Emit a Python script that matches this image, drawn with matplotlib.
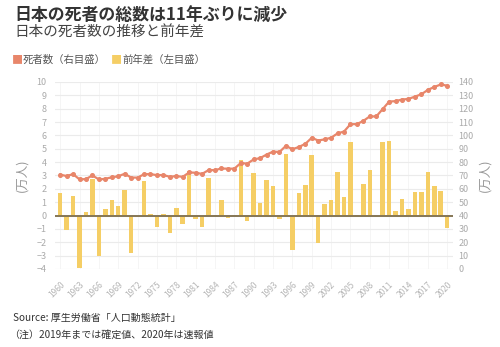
import numpy as np
import matplotlib.pyplot as plt
from matplotlib.ticker import MultipleLocator

plt.rcParams['font.family'] = ['Noto Sans CJK JP', 'DejaVu Sans']

years = list(range(1960, 2021))
# 死者数 (万人), right axis
deaths = [70.66, 69.56, 71.03, 67.08, 67.31, 70.04, 67.03, 67.50, 68.66, 69.38,
          71.30, 68.45, 68.38, 70.94, 71.05, 70.23, 70.33, 69.01, 69.58, 68.97,
          72.28, 72.03, 71.19, 74.00, 74.02, 75.23, 75.06, 75.12, 79.30, 78.86,
          82.03, 82.98, 85.66, 87.85, 87.59, 92.21, 89.62, 91.34, 93.65, 98.20,
          96.17, 97.03, 98.24, 101.50, 102.86, 108.38, 108.45, 110.83, 114.24, 114.19,
          119.70, 125.31, 125.64, 126.84, 127.30, 129.04, 130.77, 134.06, 136.25, 138.11,
          137.20]
# 前年差 (万人), left axis
diffs = [1.67, -1.10, 1.46, -3.95, 0.23, 2.74, -3.01, 0.47, 1.15, 0.72,
         1.92, -2.84, -0.08, 2.57, 0.11, -0.82, 0.10, -1.32, 0.58, -0.62,
         3.31, -0.25, -0.84, 2.82, 0.02, 1.20, -0.17, 0.06, 4.18, -0.44,
         3.17, 0.95, 2.68, 2.19, -0.26, 4.62, -2.59, 1.72, 2.31, 4.55,
         -2.04, 0.87, 1.20, 3.26, 1.37, 5.52, 0.07, 2.39, 3.41, -0.05,
         5.51, 5.61, 0.33, 1.21, 0.46, 1.74, 1.73, 3.28, 2.19, 1.86,
         -0.94]
xticks = list(range(1960, 2021, 3))

bar_col = '#F5CE65'
line_col = '#E8866A'
tick_col = '#aaaaaa'

fig = plt.figure(figsize=(5, 3.47), dpi=100)
ax = fig.add_axes([0.11, 0.2248, 0.796, 0.539])

ax.bar(years, diffs, width=0.7, color=bar_col, zorder=2)
ax.axhline(0, color='#857655', lw=1.4, zorder=3)
ax.set_ylim(-4, 10)
ax.set_xlim(1959.2, 2020.9)
ax.yaxis.set_major_locator(MultipleLocator(1))
ax.set_xticks(xticks)
ax.set_xticklabels([str(y) for y in xticks], rotation=45, ha='right',
                   rotation_mode='anchor', fontsize=6, color='#b5b5b5')
ax.tick_params(axis='y', labelsize=6.5, labelcolor=tick_col, length=0, pad=6)
ax.tick_params(axis='x', length=0, pad=8)
ax.grid(axis='y', color='#ebebeb', lw=0.8, zorder=0)
ax.grid(axis='x', color='#f4f4f4', lw=0.6, zorder=0)
for s in ax.spines.values():
    s.set_visible(False)
ax.set_ylabel('(万人)', fontsize=9, color='#999999', labelpad=6)

ax2 = ax.twinx()
ax2.plot(years, deaths, color=line_col, lw=1.6, marker='o', markersize=2.6, zorder=4)
ax2.set_ylim(0, 140)
ax2.yaxis.set_major_locator(MultipleLocator(10))
ax2.tick_params(axis='y', labelsize=6.5, labelcolor=tick_col, length=0, pad=4)
for s in ax2.spines.values():
    s.set_visible(False)
ax2.set_ylabel('(万人)', fontsize=9, color='#999999', rotation=90, labelpad=3)

fig.text(0.028, 0.958, '日本の死者の総数は11年ぶりに減少', fontsize=12.2,
         fontweight='bold', color='#333333', va='center')
fig.text(0.028, 0.905, '日本の死者数の推移と前年差', fontsize=10.5,
         color='#444444', va='center')

# legend
fig.text(0.034, 0.827, '■', fontsize=8, color=line_col, va='center', ha='center')
fig.text(0.046, 0.827, '死者数（右目盛）', fontsize=7.5, color='#555555', va='center')
fig.text(0.233, 0.827, '■', fontsize=8, color=bar_col, va='center', ha='center')
fig.text(0.245, 0.827, '前年差（左目盛）', fontsize=7.5, color='#555555', va='center')

fig.text(0.026, 0.083, 'Source: 厚生労働省「人口動態統計」', fontsize=7.2,
         color='#333333', va='center')
fig.text(0.018, 0.035, '（注）2019年までは確定値、2020年は速報値', fontsize=7.2,
         color='#333333', va='center')

fig.savefig('out.png', dpi=100)
